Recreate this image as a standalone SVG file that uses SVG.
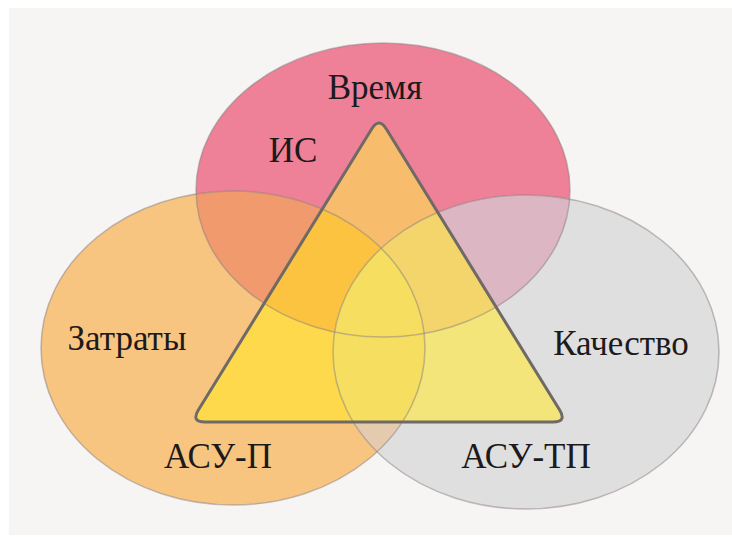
<svg xmlns="http://www.w3.org/2000/svg" xmlns:xlink="http://www.w3.org/1999/xlink" width="732" height="537" viewBox="0 0 732 537">
<style>
.lbl{font-family:"Liberation Serif","Times New Roman",serif;font-size:35px;fill:#1c1a1a;text-anchor:middle}
.edge{fill:none;stroke:#8a7f80;stroke-opacity:0.5;stroke-width:1.5}
.tri{fill:none;stroke:#6f6a66;stroke-width:3;stroke-linejoin:round}
</style>
<defs>
<ellipse id="eP" cx="383" cy="190" rx="187" ry="147"/>
<ellipse id="eO" cx="233" cy="348" rx="192" ry="157"/>
<ellipse id="eG" cx="526" cy="352" rx="193" ry="157"/>
<path id="tri" d="M371.65,128.92 Q379,117 386.35,128.92 L559.65,410.08 Q567,422 553,422 L205,422 Q191,422 198.35,410.08 Z"/>
<clipPath id="cP"><use xlink:href="#eP"/></clipPath>
<clipPath id="cO"><use xlink:href="#eO"/></clipPath>
<clipPath id="cT"><use xlink:href="#tri"/></clipPath>
</defs>
<rect x="0" y="0" width="732" height="537" fill="#ffffff"/>
<rect x="9" y="8" width="723" height="527" fill="#f6f5f3"/>
<g id="fills">
<use xlink:href="#eP" fill="#ee8098"/>
<use xlink:href="#eO" fill="#f8c581"/>
<use xlink:href="#eG" fill="#e0dfdf"/>
<g clip-path="url(#cP)">
<use xlink:href="#eO" fill="#f09a6e"/>
<use xlink:href="#eG" fill="#dcb6c2"/>
<g clip-path="url(#cO)"><use xlink:href="#eG" fill="#e0ae94"/></g>
</g>
<g clip-path="url(#cO)"><use xlink:href="#eG" fill="#e4cbae"/></g>
</g>
<g id="triangle-fill" clip-path="url(#cT)">
<use xlink:href="#eP" fill="#f7bd6c"/>
<use xlink:href="#eO" fill="#fdd94b"/>
<use xlink:href="#eG" fill="#f3e57a"/>
<g clip-path="url(#cP)">
<use xlink:href="#eO" fill="#fbc33f"/>
<use xlink:href="#eG" fill="#f3d56c"/>
<g clip-path="url(#cO)"><use xlink:href="#eG" fill="#f5d65c"/></g>
</g>
<g clip-path="url(#cO)"><use xlink:href="#eG" fill="#f5de60"/></g>
</g>
<g id="time">
<use xlink:href="#eP" class="edge"/>
<text class="lbl" x="375" y="99">Время</text>
</g>
<g id="cost">
<use xlink:href="#eO" class="edge"/>
<text class="lbl" x="127" y="350">Затраты</text>
</g>
<g id="quality">
<use xlink:href="#eG" class="edge"/>
<text class="lbl" x="621" y="355">Качество</text>
</g>
<g id="triangle">
<use xlink:href="#tri" class="tri"/>
<text class="lbl" x="293" y="162">ИС</text>
<text class="lbl" x="218" y="468">АСУ-П</text>
<text class="lbl" x="526" y="468">АСУ-ТП</text>
</g>
<g id="connectors"/>
</svg>
